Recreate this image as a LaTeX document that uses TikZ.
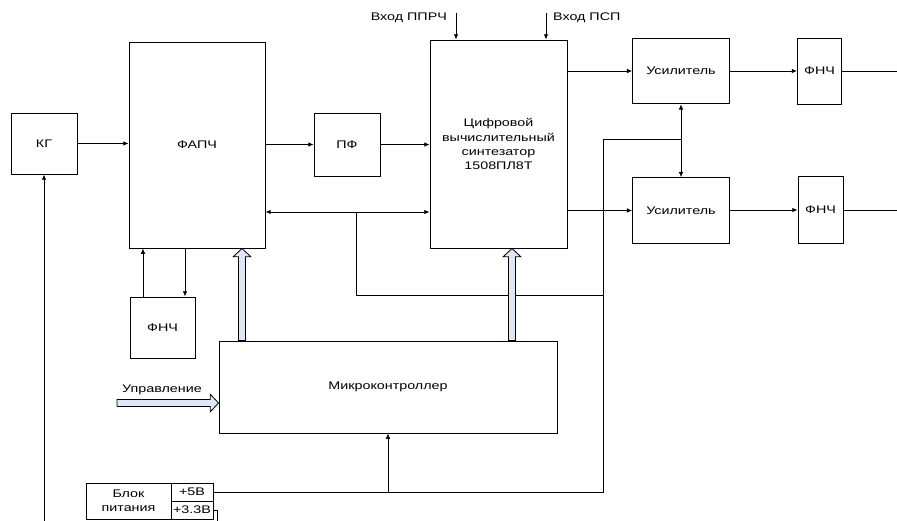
\documentclass[tikz,border=0pt]{standalone}
\usepackage{fontspec}
\setmainfont{Liberation Sans}[FakeStretch=1.3]
\usepackage{tikz}
\usetikzlibrary{arrows.meta, positioning, calc}
\definecolor{busfill}{RGB}{222,231,246}
\newcommand{\blockfont}{\fontsize{9.4}{12}\selectfont}
\tikzstyle{block} = [rectangle, draw=black, line width=0.8pt, inner sep=0pt, align=center, font=\blockfont]
\tikzstyle{arrow} = [line width=0.8pt, -{Latex[length=4.5pt,width=4pt]}]
\tikzstyle{biarrow} = [line width=0.8pt, {Latex[length=4.5pt,width=4pt]}-{Latex[length=4.5pt,width=4pt]}]
\tikzstyle{wire} = [line width=0.8pt]
% wide outlined arrow for the data buses
\tikzstyle{busarrow} = [draw=black, fill=busfill, line width=0.7pt, line join=miter, to path={
  ($(\tikztostart)!3pt!90:(\tikztotarget)$)
  -- ($($(\tikztotarget)!7pt!(\tikztostart)$)!3pt!90:(\tikztotarget)$)
  -- ($($(\tikztotarget)!7pt!(\tikztostart)$)!7.5pt!90:(\tikztotarget)$)
  -- (\tikztotarget)
  -- ($($(\tikztotarget)!7pt!(\tikztostart)$)!7.5pt!-90:(\tikztotarget)$)
  -- ($($(\tikztotarget)!7pt!(\tikztostart)$)!3pt!-90:(\tikztotarget)$)
  -- ($(\tikztostart)!3pt!-90:(\tikztotarget)$) -- cycle}]

\begin{document}
\begin{tikzpicture}[x=0.03cm, y=-0.03cm]
\useasboundingbox (0,0) rectangle (897,520);

% Main chain
\node (kg) [block, minimum width=1.98cm, minimum height=1.83cm] at (44,143.5) {КГ};
\node (pll) [block, minimum width=4.08cm, minimum height=6.18cm] at (197,145) {ФАПЧ};
\node (bpf) [block, minimum width=1.98cm, minimum height=1.89cm] at (347,144.5) {ПФ};
\node (dds) [block, minimum width=4.11cm, minimum height=6.24cm] at (498.5,144) {Цифровой\\вычислительный\\синтезатор\\1508ПЛ8Т};
\node (amp1) [block, minimum width=2.9cm, minimum height=1.97cm] at (681,71) {Усилитель};
\node (amp2) [block, minimum width=2.9cm, minimum height=1.97cm] at (681,210.5) {Усилитель};
\node (lpf1) [block, minimum width=1.32cm, minimum height=1.98cm] at (819.5,71) {ФНЧ};
\node (lpf2) [block, minimum width=1.35cm, minimum height=2.02cm] at (820.5,210) {ФНЧ};

% Loop filter, controller, supply
\node (lpf) [block, minimum width=1.95cm, minimum height=1.83cm] at (162.5,327.5) {ФНЧ};
\node (mcu) [block, minimum width=10.14cm, minimum height=2.76cm] at (388,387) {Микроконтроллер};
\node (psu) [block, minimum width=2.55cm, minimum height=1.08cm] at (128.5,501) {Блок\\питания};
\node (psu5) [block, minimum width=1.26cm, minimum height=0.54cm] at (192,492) {+5В};
\node (psu33) [block, minimum width=1.26cm, minimum height=0.54cm] at (192,510) {+3.3В};

% Inputs and outputs
\coordinate (inA) at (456,13);
\coordinate (inB) at (546,13);
\node (lblA) [font=\blockfont, anchor=east] at (451,18) {Вход ППРЧ};
\node (lblB) [font=\blockfont, anchor=west] at (549,18) {Вход ПСП};
\coordinate (ctl) at (117,403);
\node (lblctl) [font=\blockfont] at (162,390) {Управление};
\coordinate (out1) at (897,71);
\coordinate (out2) at (897,210);
\coordinate (bus) at (356,212);
\coordinate (rail) at (603,492);
\coordinate (loop) at (217,545);

% Signal path
\draw [arrow] (kg.east) -- (kg.east -| pll.west);
\draw [arrow] (bpf -| pll.east) -- (bpf);
\draw [arrow] (bpf) -- (bpf -| dds.west);
\draw [arrow] (amp1 -| dds.east) -- (amp1);
\draw [arrow] (amp2 -| dds.east) -- (amp2);
\draw [arrow] (amp1) -- (amp1 -| lpf1.west);
\draw [arrow] (lpf2 -| amp2.east) -- (lpf2.west);
\draw [wire] (lpf1) -- (out1);
\draw [wire] (lpf2) -- (out2);
\draw [arrow] (inA) -- (inA |- dds.north);
\draw [arrow] (inB) -- (inB |- dds.north);

% PLL loop filter
\draw [arrow] (lpf.north -| 143,0) -- (pll.south -| 143,0);
\draw [arrow] (pll.south -| 185,0) -- (lpf.north -| 185,0);

% Control lines
\draw [biarrow] (bus -| pll.east) -- (bus -| dds.west);
\draw [wire] (bus) |- (rail |- 0,295);
\draw [biarrow] (amp1.south) -- (amp1.south |- amp2.north);
\path [busarrow] (mcu.north -| 242,0) to (pll.south -| 242,0);
\path [busarrow] (mcu.north -| 512,0) to (dds.south -| 512,0);
\path [busarrow] (ctl) to (ctl -| mcu.west);

% Supply
\draw [wire] (psu5.east) -- (rail) |- (amp1.south |- 0,139);
\draw [arrow] (mcu.south |- psu5) -- (mcu.south);
\draw [arrow] (psu33.east) -| (loop) -| (kg.south);

\end{tikzpicture}
\end{document}
